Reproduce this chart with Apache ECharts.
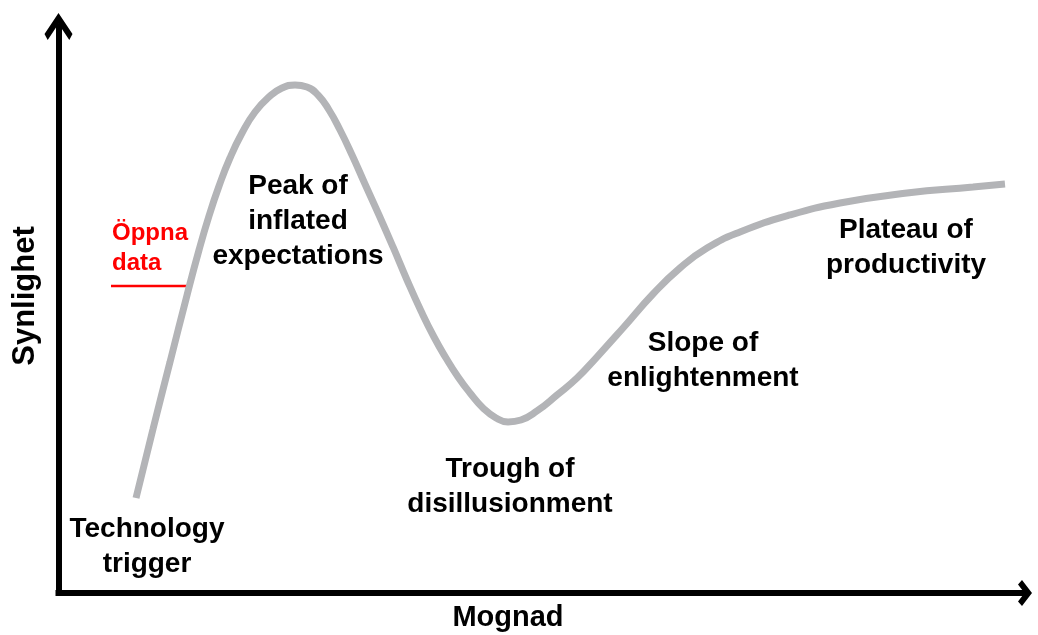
<!DOCTYPE html>
<html>
<head>
<meta charset="utf-8">
<script src="https://cdn.jsdelivr.net/npm/echarts@6/dist/echarts.min.js"></script>
<style>
  html, body { margin: 0; padding: 0; background: #fff; }
  #container { width: 1038px; height: 635px; }
</style>
</head>
<body>
<div id="container"></div>
<script>
var dom = document.getElementById("container");
var hypeChart = echarts.init(dom);

// maturity (x) and visibility (y), both on a 0-100 scale
const maturity = [8.02, 9.78, 11.54, 13.30, 14.54, 15.57, 16.61, 17.74, 18.99, 20.33, 21.78, 23.12, 24.47,
    25.71, 26.85, 27.99, 29.13, 30.37, 31.71, 33.16, 34.61, 36.06, 37.51, 38.85, 40.09, 41.34, 42.58,
    43.92, 45.27, 46.51, 47.85, 49.51, 51.58, 53.65, 55.61, 58.41, 61.51, 64.30, 67.10, 70.51, 75.68,
    80.86, 87.79, 94.62, 97.93];
const visibility = [16.77, 28.95, 40.78, 52.60, 60.55, 66.55, 71.84, 76.79, 81.20, 84.91, 87.56, 89.14, 89.67,
    89.32, 87.91, 85.26, 81.73, 77.32, 72.20, 66.73, 61.08, 55.25, 49.78, 45.19, 41.48, 38.13, 35.30,
    32.66, 30.89, 30.19, 30.54, 32.13, 34.95, 37.95, 41.48, 46.78, 52.78, 57.37, 60.90, 63.72, 66.73,
    68.84, 70.61, 71.67, 72.20];

const phaseLabels = [
    "Technology\ntrigger",
    "Peak of\ninflated\nexpectations",
    "Trough of\ndisillusionment",
    "Slope of\nenlightenment",
    "Plateau of\nproductivity",
];
const markerLabel = "Öppna\ndata";
const xTitle = "Mognad";
const yTitle = "Synlighet";

const font = "'Liberation Sans', Arial, sans-serif";

var curve = maturity.map(function (m, i) {
    return [m, visibility[i]];
});

// open chevron arrow heads (pointing up, rotated by the axis)
const yArrow = "path://M14,0 L28,21 L24.8,27 L14,10.8 L3.2,27 L0,21 Z";
const xArrow = "path://M13,0 L26,10 L21.5,14 L13,7.5 L4.5,14 L0,10 Z";

// [x, y] of the top of each phase label block
const phasePos = [[147, 512], [298, 169], [510, 452], [703, 326], [906, 213]];

function phaseText(i) {
    return {
        type: "text",
        x: phasePos[i][0],
        y: phasePos[i][1],
        style: {
            text: phaseLabels[i],
            font: "bold 28px " + font,
            lineHeight: 35,
            fill: "#000",
            align: "center",
            verticalAlign: "top",
        },
    };
}

var option = {
    animation: false,
    grid: {
        left: 58.5,
        right: 13,
        top: 26.5,
        bottom: 42,
    },
    xAxis: {
        type: "value",
        min: 0,
        max: 100,
        axisLabel: { show: false },
        axisTick: { show: false },
        splitLine: { show: false },
        axisLine: {
            show: true,
            symbol: ["none", xArrow],
            symbolSize: [26, 14],
            lineStyle: { color: "#000", width: 6, cap: "square" },
        },
    },
    yAxis: {
        type: "value",
        min: 0,
        max: 100,
        axisLabel: { show: false },
        axisTick: { show: false },
        splitLine: { show: false },
        axisLine: {
            show: true,
            symbol: ["none", yArrow],
            symbolSize: [28, 27],
            lineStyle: { color: "#000", width: 6, cap: "square" },
        },
    },
    series: [
        {
            type: "line",
            data: curve,
            smooth: 0.5,
            showSymbol: false,
            lineStyle: { color: "#b3b4b7", width: 7, cap: "butt" },
            z: 3,
        },
    ],
    graphic: {
        elements: [
            phaseText(0),
            phaseText(1),
            phaseText(2),
            phaseText(3),
            phaseText(4),
            {
                type: "text",
                x: 112,
                y: 218,
                style: {
                    text: markerLabel,
                    font: "bold 24px " + font,
                    lineHeight: 30,
                    fill: "#ff0000",
                    align: "left",
                    verticalAlign: "top",
                },
            },
            {
                type: "line",
                shape: { x1: 111, y1: 286, x2: 187, y2: 286 },
                style: { stroke: "#ff0000", lineWidth: 2.5 },
            },
            {
                type: "text",
                x: 508,
                y: 618,
                style: {
                    text: xTitle,
                    font: "bold 29px " + font,
                    fill: "#000",
                    align: "center",
                    verticalAlign: "middle",
                },
            },
            {
                type: "text",
                x: 25,
                y: 296,
                rotation: Math.PI / 2,
                style: {
                    text: yTitle,
                    font: "bold 31px " + font,
                    fill: "#000",
                    align: "center",
                    verticalAlign: "middle",
                },
            },
        ],
    },
};

hypeChart.setOption(option);
</script>
</body>
</html>
